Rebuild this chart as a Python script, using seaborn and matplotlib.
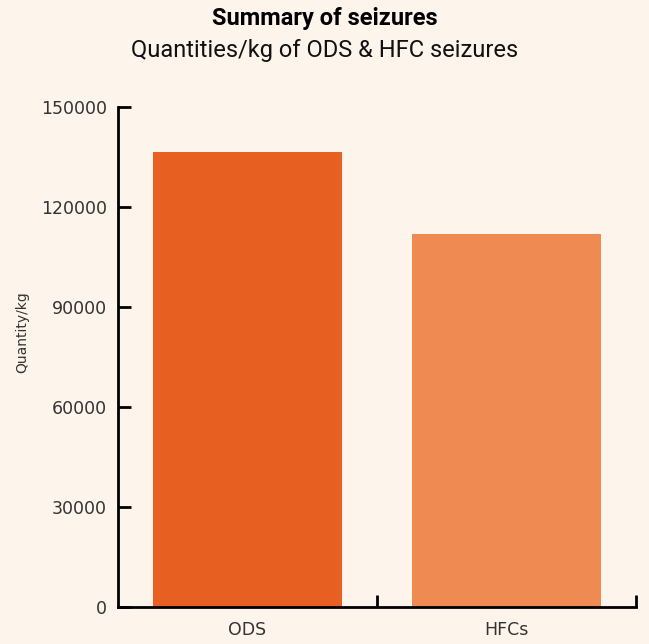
import matplotlib
matplotlib.use("Agg")
import matplotlib.pyplot as plt
import seaborn as sns
import pandas as pd
from matplotlib.ticker import FixedLocator

categories = ["ODS", "HFCs"]
quantities = [136500, 112000]
colors = ["#E85F22", "#F08A53"]
yticks = [0, 30000, 60000, 90000, 120000, 150000]

bg = "#FDF4EC"
sns.set_theme(style="ticks")
plt.rcParams['font.family'] = ['DejaVu Sans']

df = pd.DataFrame({"cat": categories, "q": quantities})

fig = plt.figure(figsize=(6.49, 6.44), dpi=100, facecolor=bg)
ax = fig.add_axes([0.1818, 0.0575, 0.7982, 0.7764])
ax.set_facecolor(bg)
sns.barplot(data=df, x="cat", y="q", hue="cat", palette=colors, legend=False,
            width=0.726, saturation=1, ax=ax, linewidth=0)
ax.set_xlim(-0.5, 1.5)
ax.set_ylim(0, 150000)
ax.set_yticks(yticks)
ax.set_yticklabels([str(v) for v in yticks], fontsize=12.5, color="#333333")
ax.set_xticks([0, 1])
ax.set_xticklabels(categories, fontsize=12.5, color="#333333")
ax.tick_params(axis="x", which="major", length=0, pad=10)
ax.xaxis.set_minor_locator(FixedLocator([0.5, 1.5]))
ax.tick_params(axis="x", which="minor", direction="in", length=9, width=2, color="black")
ax.tick_params(axis="y", direction="in", length=9, width=2, color="black", pad=8)
for s in ["top", "right"]:
    ax.spines[s].set_visible(False)
for s in ["left", "bottom"]:
    ax.spines[s].set_linewidth(2)
    ax.spines[s].set_color("black")
ax.set_xlabel("")
ax.set_ylabel("Quantity/kg", fontsize=10, color="#333333")
ax.yaxis.set_label_coords(-0.172, 0.55)

fig.text(0.5, 0.972, "Summary of seizures", ha="center", va="center",
         fontsize=17, fontweight="bold", color="black", family=["Roboto", "DejaVu Sans"])
fig.text(0.5, 0.922, "Quantities/kg of ODS & HFC seizures", ha="center", va="center",
         fontsize=17, color="#111111", family=["Roboto", "DejaVu Sans"])

fig.savefig("out.png", dpi=100, facecolor=bg)
